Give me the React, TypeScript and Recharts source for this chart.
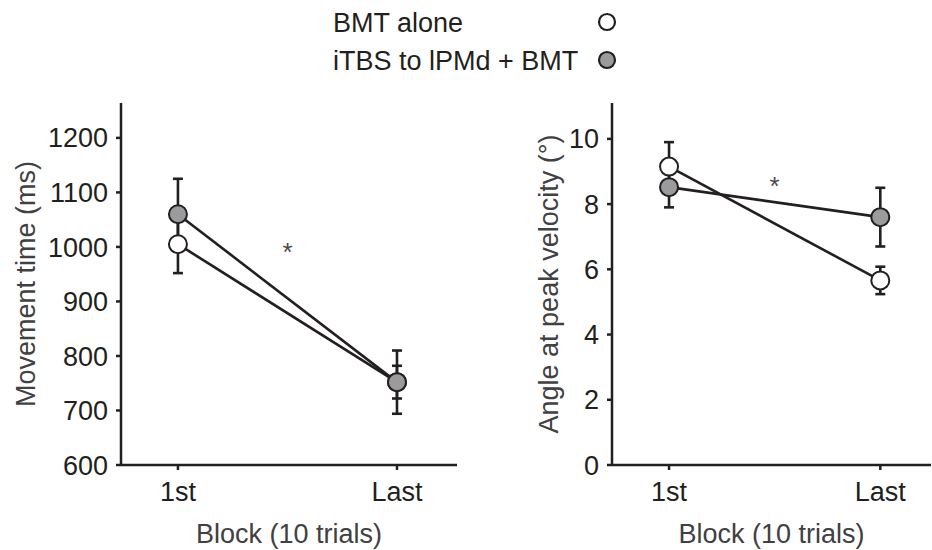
import { ErrorBar, Label, Line, LineChart, ReferenceDot, XAxis, YAxis } from "recharts";

const blocks = ["1st", "Last"];
const blockPos = [0, 1];

const mtBmt = [1005, 752];
const mtBmtErr = [53, 58];
const mtItbs = [1060, 752];
const mtItbsErr = [65, 30];
const mtTicks = [600, 700, 800, 900, 1000, 1100, 1200];

const angBmt = [9.15, 5.66];
const angBmtErr = [0.75, 0.42];
const angItbs = [8.52, 7.6];
const angItbsErr = [0.62, 0.9];
const angTicks = [0, 2, 4, 6, 8, 10];

const seriesNames = ["BMT alone", "iTBS to lPMd + BMT"];

const INK = "#231f20";
const GREY = "#9b9b9d";
const FONT = "'Liberation Sans', Arial, sans-serif";
const FS = 27;

interface PanelProps {
  left: number;
  width: number;
  yWidth: number;
  labelOffset: number;
  yLabel: string;
  yDomain: [number, number];
  xDomain: [number, number];
  ticks: number[];
  bmt: number[];
  bmtErr: number[];
  itbs: number[];
  itbsErr: number[];
  star: { x: number; y: number };
}

function Panel(p: PanelProps) {
  const data = blockPos.map((x, i) => ({
    x,
    bmt: p.bmt[i],
    bmtErr: p.bmtErr[i],
    itbs: p.itbs[i],
    itbsErr: p.itbsErr[i],
  }));
  const tickStyle = { fontSize: FS, fill: INK, fontFamily: FONT };
  const labelStyle = { fontSize: FS, fill: "#414042", fontFamily: FONT, textAnchor: "middle" as const };
  const dot = (fill: string) => ({ r: 9, fill, stroke: INK, strokeWidth: 2 });

  return (
    <div style={{ position: "absolute", left: p.left, top: 0 }}>
      <LineChart width={p.width} height={550} data={data} margin={{ top: 103, right: 1, bottom: 0, left: 0 }}>
        <XAxis
          dataKey="x"
          type="number"
          domain={p.xDomain}
          ticks={blockPos}
          tickFormatter={(v: number) => blocks[blockPos.indexOf(v)] ?? ""}
          allowDataOverflow
          height={85}
          tickSize={5}
          tickMargin={12}
          tick={tickStyle}
          axisLine={{ stroke: INK, strokeWidth: 2.5 }}
          tickLine={{ stroke: INK, strokeWidth: 2.5 }}
        >
          <Label value="Block (10 trials)" position="insideBottom" offset={7} style={labelStyle} />
        </XAxis>
        <YAxis
          type="number"
          domain={p.yDomain}
          ticks={p.ticks}
          allowDataOverflow
          width={p.yWidth}
          tickSize={5}
          tickMargin={8}
          tick={tickStyle}
          axisLine={{ stroke: INK, strokeWidth: 2.5 }}
          tickLine={{ stroke: INK, strokeWidth: 2.5 }}
        >
          <Label value={p.yLabel} angle={-90} position="insideLeft" offset={p.labelOffset} style={labelStyle} />
        </YAxis>
        <Line dataKey="bmt" stroke={INK} strokeWidth={2.6} dot={false} activeDot={false} isAnimationActive={false}>
          <ErrorBar dataKey="bmtErr" width={5} stroke={INK} strokeWidth={2.6} direction="y" />
        </Line>
        <Line dataKey="itbs" stroke={INK} strokeWidth={2.6} dot={false} activeDot={false} isAnimationActive={false}>
          <ErrorBar dataKey="itbsErr" width={5} stroke={INK} strokeWidth={2.6} direction="y" />
        </Line>
        <Line dataKey="bmt" stroke="none" dot={dot("#ffffff")} activeDot={false} isAnimationActive={false} />
        <Line dataKey="itbs" stroke="none" dot={dot(GREY)} activeDot={false} isAnimationActive={false} />
        <ReferenceDot
          x={p.star.x}
          y={p.star.y}
          r={0}
          stroke="none"
          label={{ value: "*", position: "center", fontSize: 26, fill: "#4a4a4a", fontFamily: FONT }}
        />
      </LineChart>
    </div>
  );
}

export default function App() {
  return (
    <div style={{ position: "absolute", left: 0, top: 0, width: 932, height: 550, background: "#fff", fontFamily: FONT }}>
      <svg width={932} height={90} style={{ position: "absolute", left: 0, top: 0 }}>
        {seriesNames.map((name, i) => (
          <g key={name}>
            <text x={333} y={32 + i * 38} fontSize={FS} fill={INK} fontFamily={FONT}>
              {name}
            </text>
            <circle cx={607} cy={22 + i * 38} r={8} fill={i === 0 ? "#fff" : GREY} stroke={INK} strokeWidth={2.2} />
          </g>
        ))}
      </svg>
      <Panel
        left={0}
        width={458}
        yWidth={121}
        labelOffset={25}
        yLabel="Movement time (ms)"
        yDomain={[600, 1264]}
        xDomain={[-0.26, 1.274]}
        ticks={mtTicks}
        bmt={mtBmt}
        bmtErr={mtBmtErr}
        itbs={mtItbs}
        itbsErr={mtItbsErr}
        star={{ x: 0.5, y: 992 }}
      />
      <Panel
        left={470}
        width={462}
        yWidth={142}
        labelOffset={78}
        yLabel="Angle at peak velocity (°)"
        yDomain={[0, 11.1]}
        xDomain={[-0.27, 1.24]}
        ticks={angTicks}
        bmt={angBmt}
        bmtErr={angBmtErr}
        itbs={angItbs}
        itbsErr={angItbsErr}
        star={{ x: 0.5, y: 8.57 }}
      />
    </div>
  );
}
